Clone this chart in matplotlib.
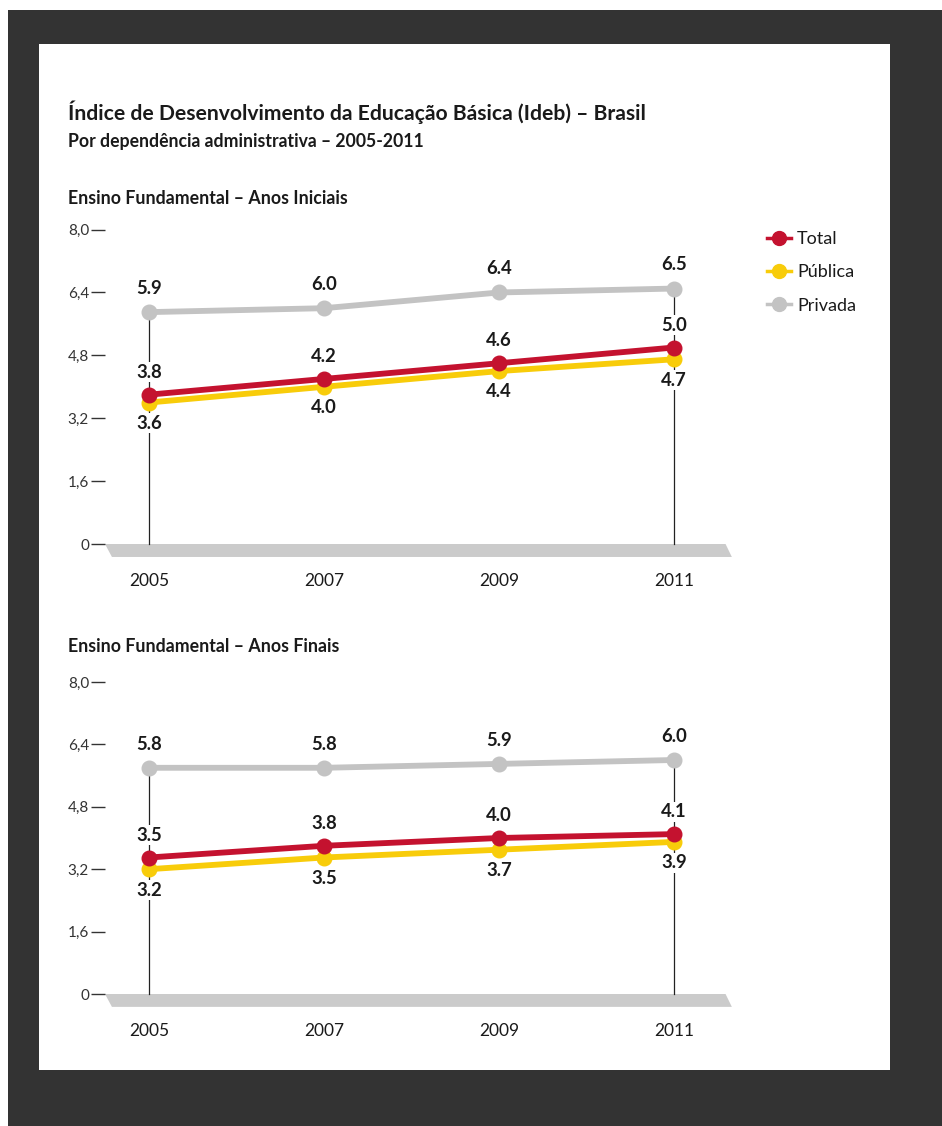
import matplotlib
matplotlib.use("Agg")
import matplotlib.pyplot as plt
from matplotlib.lines import Line2D
from matplotlib.patches import Rectangle, Polygon
from matplotlib.legend_handler import HandlerLine2D
from matplotlib.transforms import blended_transform_factory

plt.rcParams['font.family'] = ['Lato', 'DejaVu Sans']

# ---- data ----
years = [2005, 2007, 2009, 2011]
year_labels = ["2005", "2007", "2009", "2011"]

iniciais_total = [3.8, 4.2, 4.6, 5.0]
iniciais_publica = [3.6, 4.0, 4.4, 4.7]
iniciais_privada = [5.9, 6.0, 6.4, 6.5]

finais_total = [3.5, 3.8, 4.0, 4.1]
finais_publica = [3.2, 3.5, 3.7, 3.9]
finais_privada = [5.8, 5.8, 5.9, 6.0]

y_ticks = [0, 1.6, 3.2, 4.8, 6.4, 8.0]
y_tick_labels = ["0", "1,6", "3,2", "4,8", "6,4", "8,0"]

series_names = ["Total", "Pública", "Privada"]

title = "Índice de Desenvolvimento da Educação Básica (Ideb) – Brasil"
subtitle = "Por dependência administrativa – 2005-2011"
panel_titles = ["Ensino Fundamental – Anos Iniciais", "Ensino Fundamental – Anos Finais"]

# ---- style ----
RED = "#c4122f"
YELLOW = "#f8cc0a"
GREY = "#c3c3c3"
BAND = "#cbcbcb"
TEXT = "#1a1a1a"
DARK = "#333333"

W, H = 942, 1126
fig = plt.figure(figsize=(W / 100, H / 100), dpi=100)
fig.patch.set_facecolor("white")


def fx(px):
    return px / W


def fy(py):
    return 1 - py / H


# dark frame and white card
fig.add_artist(Rectangle((fx(8), 0), 1 - fx(8), fy(10), transform=fig.transFigure,
                         facecolor=DARK, edgecolor="none", zorder=0))
fig.add_artist(Rectangle((fx(39), fy(1070)), fx(890) - fx(39), fy(44) - fy(1070),
                         transform=fig.transFigure, facecolor="white", edgecolor="none", zorder=0))

fig.text(fx(68), fy(112), title, fontsize=15.2, fontweight="bold", color=TEXT,
         ha="left", va="center")
fig.text(fx(68), fy(142), subtitle, fontsize=12.7, fontweight="bold", color=TEXT,
         ha="left", va="center")

YMIN, YMAX = -0.5, 8.4


def make_axes(zero_px, unit):
    top = zero_px - YMAX * unit
    bot = zero_px - YMIN * unit
    left, right = 105, 735
    ax = fig.add_axes([fx(left), fy(bot), fx(right) - fx(left), fy(top) - fy(bot)])
    # x-limits so the years fall at their columns
    per_year = (674 - 149) / 6.0
    ax.set_xlim(2005 - (149 - left) / per_year, 2011 + (right - 674) / per_year)
    ax.set_ylim(YMIN, YMAX)
    return ax


def draw_panel(ax, total, publica, privada):
    ax.set_facecolor("none")
    for s in ax.spines.values():
        s.set_visible(False)

    # base band
    tr = blended_transform_factory(ax.transAxes, ax.transData)
    band = Polygon([(0.0, 0.0), (0.985, 0.0), (0.995, -0.33), (0.011, -0.33)],
                   closed=True, transform=tr, facecolor=BAND, edgecolor="none",
                   zorder=1, clip_on=False)
    ax.add_patch(band)

    # drop lines at the first and last year
    for i in (0, len(years) - 1):
        ax.plot([years[i], years[i]], [0, privada[i]], color="#222222", lw=0.9, zorder=2)

    kw = dict(lw=4.2, marker="o", ms=10.5, solid_capstyle="round")
    ax.plot(years, privada, color=GREY, zorder=3, **kw)
    ax.plot(years, publica, color=YELLOW, zorder=4, **kw)
    ax.plot(years, total, color=RED, zorder=5, **kw)

    box = dict(boxstyle="square,pad=0.08", facecolor="white", edgecolor="none")
    lab = dict(textcoords="offset points", ha="center", va="center", fontsize=13.3,
               fontweight="bold", color=TEXT, zorder=6, bbox=box)
    for x, t, p, v in zip(years, total, publica, privada):
        ax.annotate(f"{v:.1f}", (x, v), xytext=(0, 17), **lab)
        ax.annotate(f"{t:.1f}", (x, t), xytext=(0, 16), **lab)
        ax.annotate(f"{p:.1f}", (x, p), xytext=(0, -15), **lab)

    ax.set_yticks(y_ticks)
    ax.set_yticklabels(y_tick_labels)
    ax.tick_params(axis="y", length=10, width=1.0, color="#333333", pad=1.5,
                   labelsize=11, labelcolor="#333333")
    ax.set_xticks(years)
    ax.set_xticklabels(year_labels)
    ax.tick_params(axis="x", length=0, pad=7, labelsize=12.5, labelcolor=TEXT)


ax1 = make_axes(544, 39.3)
draw_panel(ax1, iniciais_total, iniciais_publica, iniciais_privada)
ax2 = make_axes(994, 39.0)
draw_panel(ax2, finais_total, finais_publica, finais_privada)

fig.text(fx(68), fy(198), panel_titles[0], fontsize=12.8, fontweight="bold", color=TEXT,
         ha="left", va="center")
fig.text(fx(68), fy(646), panel_titles[1], fontsize=12.8, fontweight="bold", color=TEXT,
         ha="left", va="center")


class StubMarkerHandler(HandlerLine2D):
    """Short line stub with the marker sitting at its right end."""

    def get_xdata(self, legend, xdescent, ydescent, width, height, fontsize):
        xdata = [-xdescent, -xdescent + width]
        return xdata, [-xdescent + width]


handles = [Line2D([], [], color=c, lw=2.5, marker="o", ms=10)
           for c in (RED, YELLOW, GREY)]
leg = fig.legend(handles, series_names, loc="upper left",
                 bbox_to_anchor=(fx(760), fy(224)), frameon=False,
                 fontsize=13, handlelength=1.3, handletextpad=0.35,
                 labelspacing=0.95, borderaxespad=0, numpoints=1,
                 handler_map={Line2D: StubMarkerHandler()})
for t in leg.get_texts():
    t.set_color(TEXT)

fig.savefig("out.png", dpi=100, facecolor=fig.get_facecolor())
